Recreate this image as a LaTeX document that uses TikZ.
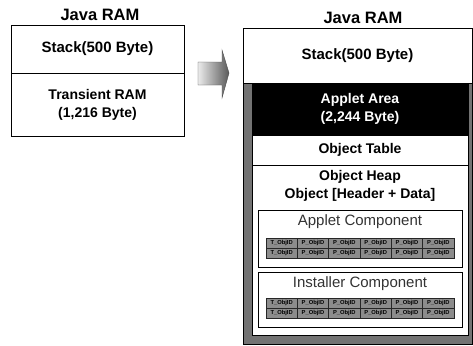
\documentclass[tikz,border=0pt]{standalone}
\usepackage{fontspec}
\setmainfont{Liberation Sans}
\begin{document}
\begin{tikzpicture}[x=1pt,y=-1pt,
  box/.style={draw=black,line width=0.8pt,fill=white,inner sep=0pt,align=center,
    font=\fontsize{14}{18}\selectfont\bfseries},
  bigbox/.style={box,font=\fontsize{15}{18}\selectfont\bfseries},
  title/.style={inner sep=0pt,font=\fontsize{16.5}{18}\selectfont\bfseries},
  comp/.style={draw=black,line width=1pt,fill=white,inner sep=0pt},
  complabel/.style={inner sep=0pt,text=black!80,font=\fontsize{15}{18}\selectfont},
  cell/.style={draw=black!85,line width=0.4pt,fill=black!45,inner sep=0pt,
    minimum width=31.33pt,minimum height=10pt,font=\fontsize{5.8}{6}\selectfont\bfseries}]
\useasboundingbox (0,0) rectangle (473,345);
% left
\node[title] (ltitle) at (100,15) {Java RAM};
\node[bigbox,minimum width=173pt,minimum height=48pt] (lstack) at (97.5,49) {\raisebox{-3pt}{Stack(500 Byte)}};
\node[box,minimum width=173pt,minimum height=63pt] (ltrans) at (97.5,104.5) {Transient RAM\\(1,216 Byte)};
% arrow
\path[left color=black!8,right color=black!65,draw=black!70,line width=0.4pt]
  (198,62) -- (222,62) -- (222,50) -- (229,73) -- (222,98) -- (222,85) -- (198,85) -- cycle;
% right
\node[title] (rtitle) at (363,18) {Java RAM};
\node[draw=black,line width=0.8pt,fill=black!55,minimum width=229pt,minimum height=261pt,inner sep=0pt] (frame) at (357.5,213.5) {};
\node[bigbox,minimum width=229pt,minimum height=55pt] (rstack) at (357.5,55.5) {\raisebox{-4pt}{Stack(500 Byte)}};
\node[box,fill=black,draw=black,text=white,minimum width=216pt,minimum height=52pt] (applet) at (360,109) {Applet Area\\(2,244 Byte)};
\node[box,minimum width=216pt,minimum height=30pt] (otable) at (360,150) {Object Table};
\node[box,minimum width=216pt,minimum height=170pt] (oheap) at (360,250) {};
\node[box,draw=none,fill=none] (heaplabel) at (360,186) {Object Heap\\Object [Header + Data]};
% applet component
\node[comp,minimum width=204pt,minimum height=57pt] (acomp) at (360,238.5) {};
\node[complabel] (alabel) at (360,222) {Applet Component};
\foreach \r/\y in {1/243,2/253}{
  \node[cell] (a\r c1) at (281.67,\y) {T\_ObjID};
  \foreach \c in {2,...,6}{
    \node[cell] (a\r c\c) at ({266+31.33*(\c-0.5)},\y) {P\_ObjID};
  }
}
% installer component
\node[comp,minimum width=204pt,minimum height=55pt] (icomp) at (360,299.5) {};
\node[complabel] (ilabel) at (360,284) {Installer Component};
\foreach \r/\y in {1/303,2/313}{
  \node[cell] (i\r c1) at (281.67,\y) {T\_ObjID};
  \foreach \c in {2,...,6}{
    \node[cell] (i\r c\c) at ({266+31.33*(\c-0.5)},\y) {P\_ObjID};
  }
}
\end{tikzpicture}
\end{document}
